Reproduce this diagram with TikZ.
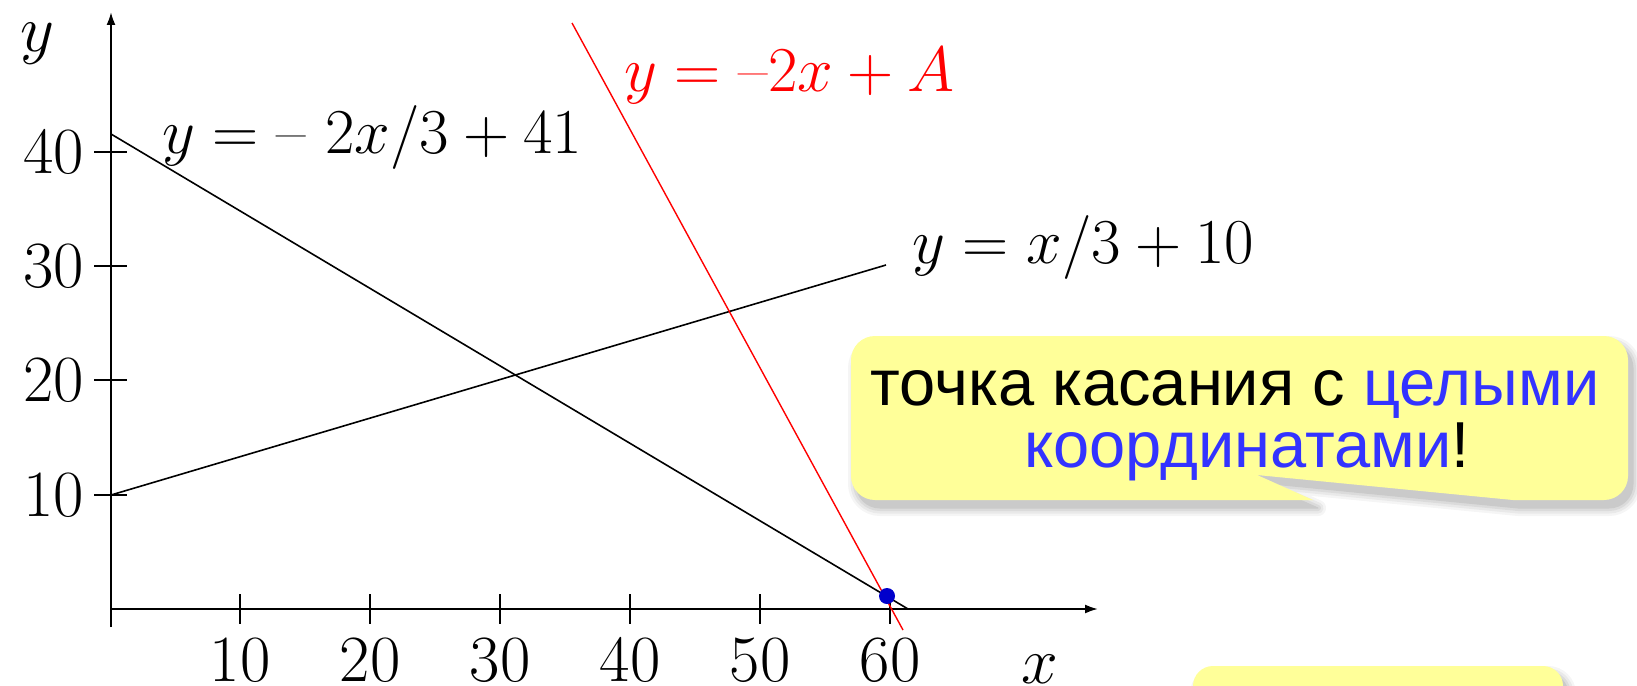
\RequirePackage{fix-cm}
\documentclass[tikz,border=0pt]{standalone}
\usepackage{fontspec}
\newfontfamily\arialf{Liberation Sans}
\usetikzlibrary{arrows.meta}
\definecolor{callyellow}{RGB}{255,255,153}
\definecolor{callblue}{RGB}{51,51,255}
\definecolor{dotblue}{RGB}{0,0,204}
\definecolor{linered}{RGB}{255,0,0}
\begin{document}
\begin{tikzpicture}[x=1pt,y=-1pt,
  axisline/.style={line width=2pt,-{Latex[length=13pt,width=9pt]}},
  tickmark/.style={line width=1.6pt},
  graphline/.style={line width=1.6pt,black},
  redline/.style={line width=1.4pt,linered},
  numlbl/.style={font=\fontsize{66}{72}\selectfont,inner sep=0pt},
  eqlbl/.style={font=\fontsize{64}{72}\selectfont,inner sep=0pt,anchor=base west},
  calltext/.style={font=\arialf\fontsize{65}{62}\selectfont,inner sep=0pt,anchor=base},
  tdot/.style={circle,fill=dotblue,inner sep=0pt,minimum size=16pt}]
\useasboundingbox (0,0) rectangle (1637,685);
\clip (0,0) rectangle (1637,685);

% callout shadow and body
\foreach \w/\o in {16/0.04,11/0.05,6/0.06,1/0.08}{
  \begin{scope}[transparency group,opacity=\o]
  \filldraw[black,line width=\w pt,line join=round,shift={(5,8)}]
    (851,418) [rounded corners=24pt] -- (851,336) -- (1628,336) -- (1628,500) -- (1560,500)
    [sharp corners] -- (1513,500) -- (1257,475) -- (1313,500) -- (900,500)
    [rounded corners=24pt] -- (851,500) -- cycle;
  \end{scope}
}
\fill[callyellow]
    (851,418) [rounded corners=24pt] -- (851,336) -- (1628,336) -- (1628,500) -- (1560,500)
    [sharp corners] -- (1513,500) -- (1257,475) -- (1313,500) -- (900,500)
    [rounded corners=24pt] -- (851,500) -- cycle;

% lower box (cut off)
\foreach \w/\o in {16/0.04,11/0.05,6/0.06,1/0.08}{
  \begin{scope}[transparency group,opacity=\o]
  \filldraw[black,line width=\w pt,rounded corners=20pt,shift={(5,8)}]
    (1193,666) rectangle (1563,760);
  \end{scope}
}
\fill[callyellow,rounded corners=20pt] (1193,666) rectangle (1563,760);

% axes
\coordinate (O) at (111,609);
\coordinate (ybot) at (111,627);
\coordinate (ytop) at (111,12);
\coordinate (xend) at (1098,609);
\draw[axisline] (ybot) -- (ytop);
\draw[axisline] (O) -- (xend);
\node[numlbl,anchor=base] (ylab) at (37,52) {$y$};
\node[numlbl,anchor=base] (xlab) at (1040,683) {$x$};

% x ticks
\foreach \v/\px in {10/240,20/370,30/500,40/630,50/760,60/890}{
  \draw[tickmark] (\px,594) -- (\px,624);
  \node[numlbl] (xl\v) at (\px,660) {\v};
}
% y ticks
\foreach \v/\py in {40/152,30/266,20/380,10/495}{
  \draw[tickmark] (94,\py) -- (127,\py);
  \node[numlbl,anchor=east] (yl\v) at (84,\py) {\v};
}

% graph lines
\coordinate (a1) at (111,134); \coordinate (a2) at (908,609);
\coordinate (b1) at (111,495); \coordinate (b2) at (886,265);
\coordinate (r1) at (572,23);  \coordinate (r2) at (903,630);
\draw[graphline] (a1) -- (a2);
\draw[graphline] (b1) -- (b2);
\draw[redline] (r1) -- (r2);
\node[tdot] (tp) at (887,596) {};

% equations
\node[eqlbl] (eqa) at (162,153) {$y = \mbox{–}\ 2x/3 + 41$};
\node[eqlbl] (eqb) at (912,263) {$y = x/3 + 10$};
\node[eqlbl,text=linered] (eqr) at (624,92) {$y = \mbox{–}2x + A$};

% callout text
\node[calltext] (ct1) at (1235,405) {точка касания с \textcolor{callblue}{целыми}};
\node[calltext] (ct2) at (1247,467) {\textcolor{callblue}{координатами}!};
\end{tikzpicture}
\end{document}
